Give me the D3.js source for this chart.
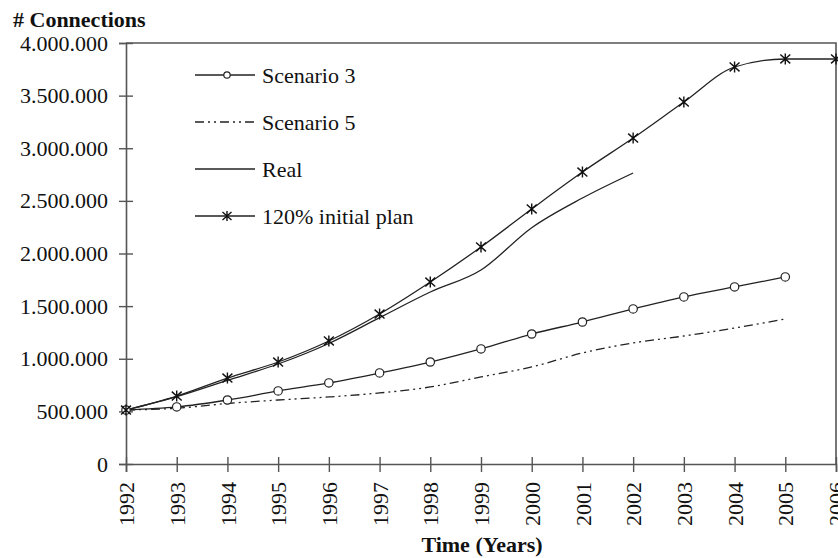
<!DOCTYPE html>
<html>
<head>
<meta charset="utf-8">
<script src="https://cdn.jsdelivr.net/npm/d3@7/dist/d3.min.js"></script>
<style>
  html, body { margin: 0; padding: 0; background: #fff; }
</style>
</head>
<body>
<svg id="chart" width="838" height="558"></svg>
<script>
// Connections per year, 1992–2006
const years = [1992, 1993, 1994, 1995, 1996, 1997, 1998, 1999, 2000, 2001, 2002, 2003, 2004, 2005, 2006];

const scenario3 = [513000, 542000, 608000, 694000, 770000, 865000, 969000, 1093000, 1235000, 1349000, 1473000, 1587000, 1682000, 1777000];
const scenario5 = [513000, 530000, 575000, 608000, 637000, 675000, 732000, 827000, 922000, 1055000, 1150000, 1216000, 1292000, 1378000];
const real      = [513000, 640000, 795000, 950000, 1145000, 1390000, 1634000, 1843000, 2245000, 2527000, 2765000];
const plan120   = [513000, 646000, 817000, 969000, 1169000, 1425000, 1729000, 2062000, 2423000, 2774000, 3097000, 3439000, 3772000, 3848000, 3848000];

const yTicks = [0, 500000, 1000000, 1500000, 2000000, 2500000, 3000000, 3500000, 4000000];
const legendLabels = ["Scenario 3", "Scenario 5", "Real", "120% initial plan"];

const FONT = "'Liberation Serif'";
const svg = d3.select("#chart").style("font-family", FONT);
const plotLeft = 126, plotRight = 836, plotTop = 43, plotBottom = 464;

const x = d3.scaleLinear().domain([1992, 2006]).range([plotLeft, plotRight]);
const y = d3.scaleLinear().domain([0, 4000000]).range([plotBottom, plotTop]);

const axisColor = "#555";
const lineColor = "#222";
const textColor = "#111";

// plot frame (top and right edges)
svg.append("path")
  .attr("d", `M${plotLeft},${plotTop}H${plotRight}V${plotBottom}`)
  .attr("fill", "none").attr("stroke", axisColor).attr("stroke-width", 1.6);

// y axis
const fmt = v => v === 0 ? "0" : d3.format(",")(v).replace(/,/g, ".");
const yAxis = svg.append("g").attr("transform", `translate(${plotLeft},0)`)
  .call(d3.axisLeft(y).tickValues(yTicks).tickFormat(fmt).tickSize(7));
yAxis.attr("font-family", null).attr("font-size", null);
yAxis.select(".domain").attr("stroke", axisColor).attr("stroke-width", 1.6);
yAxis.selectAll(".tick line").attr("stroke", axisColor).attr("stroke-width", 1.4).attr("x2", 7).attr("x1", -7);
yAxis.selectAll(".tick text")
  .style("font-family", FONT).style("font-size", "22px")
  .attr("x", -18).attr("fill", textColor);

// x axis
const xAxis = svg.append("g").attr("transform", `translate(0,${plotBottom})`)
  .call(d3.axisBottom(x).tickValues(years).tickFormat(d3.format("d")).tickSize(8));
xAxis.attr("font-family", null).attr("font-size", null);
xAxis.select(".domain").attr("stroke", axisColor).attr("stroke-width", 1.6);
xAxis.selectAll(".tick line").attr("stroke", axisColor).attr("stroke-width", 1.4).attr("y1", -7).attr("y2", 8);
xAxis.selectAll(".tick text")
  .style("font-family", FONT).style("font-size", "22px")
  .attr("fill", textColor)
  .attr("text-anchor", "end")
  .attr("transform", "rotate(-90)")
  .attr("x", -18).attr("y", 0).attr("dy", "0.35em");

// axis titles
svg.append("text").attr("x", 13).attr("y", 27)
  .style("font-family", FONT).style("font-size", "22px").style("font-weight", "bold")
  .attr("fill", textColor).text("# Connections");
svg.append("text").attr("x", 482).attr("y", 552).attr("text-anchor", "middle")
  .style("font-family", FONT).style("font-size", "22px").style("font-weight", "bold")
  .attr("fill", textColor).text("Time (Years)");

// series
const line = d3.line().x((d, i) => x(years[i])).y(d => y(d)).curve(d3.curveMonotoneX);

const dashDotDot = "9,4,2,4,2,4";

svg.append("path").datum(scenario5).attr("d", line)
  .attr("fill", "none").attr("stroke", lineColor).attr("stroke-width", 1.3)
  .attr("stroke-dasharray", dashDotDot);

svg.append("path").datum(real).attr("d", line)
  .attr("fill", "none").attr("stroke", lineColor).attr("stroke-width", 1.3);

svg.append("path").datum(scenario3).attr("d", line)
  .attr("fill", "none").attr("stroke", lineColor).attr("stroke-width", 1.3);

svg.append("path").datum(plan120).attr("d", line)
  .attr("fill", "none").attr("stroke", lineColor).attr("stroke-width", 1.3);

// markers
function circleMarker(g, cx, cy, r) {
  g.append("circle").attr("cx", cx).attr("cy", cy).attr("r", r)
    .attr("fill", "#fff").attr("stroke", lineColor).attr("stroke-width", 1.2);
}
function starMarker(g, cx, cy, s) {
  const d = `M${cx},${cy - s}V${cy + s}` +
            `M${cx - s * 0.9},${cy - s * 0.8}L${cx + s * 0.9},${cy + s * 0.8}` +
            `M${cx - s * 0.9},${cy + s * 0.8}L${cx + s * 0.9},${cy - s * 0.8}`;
  g.append("path").attr("d", d).attr("stroke", "#111").attr("stroke-width", 1.4).attr("fill", "none");
}

const mk = svg.append("g");
scenario3.forEach((v, i) => circleMarker(mk, x(years[i]), y(v), 4.2));
plan120.forEach((v, i) => starMarker(mk, x(years[i]), y(v), 5.5));

// legend
const legend = svg.append("g");
const legendRows = [75, 122, 169, 216];
const lx1 = 195, lx2 = 255, tx = 262;
legendLabels.forEach((label, i) => {
  const ly = legendRows[i];
  const seg = legend.append("line").attr("x1", lx1).attr("x2", lx2).attr("y1", ly).attr("y2", ly)
    .attr("stroke", lineColor).attr("stroke-width", 1.3);
  if (i === 1) seg.attr("stroke-dasharray", dashDotDot);
  if (i === 0) circleMarker(legend, (lx1 + lx2) / 2 + 2, ly, 3.2);
  if (i === 3) starMarker(legend, (lx1 + lx2) / 2 + 2, ly, 5);
  legend.append("text").attr("x", tx).attr("y", ly).attr("dy", "0.35em")
    .style("font-family", FONT).style("font-size", "22px")
    .attr("fill", textColor).text(label);
});
</script>
</body>
</html>
